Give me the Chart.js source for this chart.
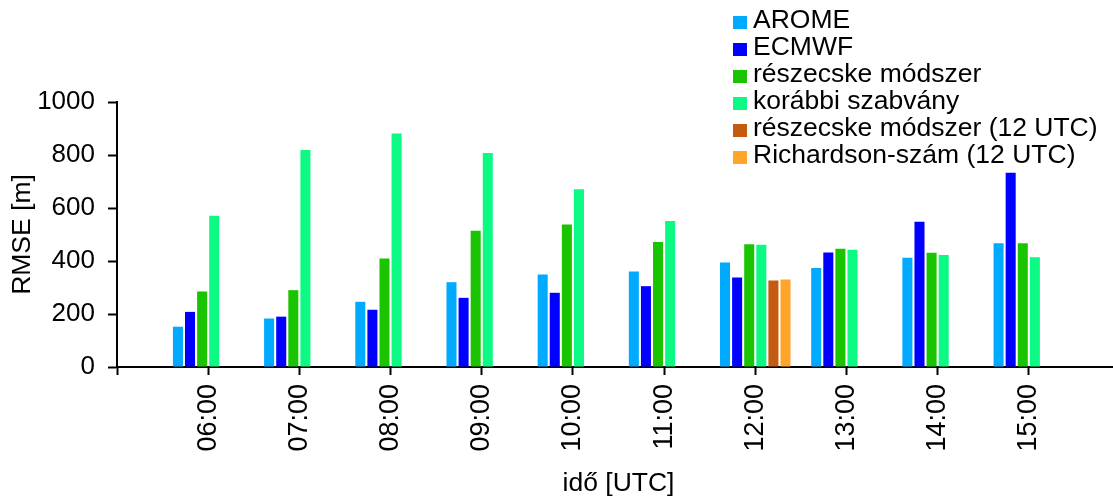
<!DOCTYPE html>
<html>
<head>
<meta charset="utf-8">
<script src="https://cdn.jsdelivr.net/npm/chart.js@4/dist/chart.umd.min.js"></script>
<style>
  html, body { margin: 0; padding: 0; background: #fff; overflow: hidden; }
  #wrap { position: relative; width: 1113px; height: 498px; overflow: hidden; }
  #myChart { position: absolute; left: 0; top: 0; }
  #legend {
    position: absolute; left: 733px; top: 6px;
    font-family: 'Liberation Sans', Arial, sans-serif; font-size: 26.5px; color: #000;
  }
  .item { position: relative; height: 27.06px; line-height: 27px; padding-left: 20px; white-space: nowrap; }
  .box { position: absolute; left: 0; top: 10px; width: 14px; height: 13px; }
</style>
</head>
<body>
<div id="wrap">
  <canvas id="myChart" width="1120" height="498"></canvas>
  <div id="legend"></div>
</div>
<script>
// empty slot at both ends so the ticks land where the original ones are
const labels = ['', '06:00', '07:00', '08:00', '09:00', '10:00', '11:00', '12:00', '13:00', '14:00', '15:00', '']

const seriesNames = ['AROME', 'ECMWF', 'részecske módszer', 'korábbi szabvány', 'részecske módszer (12 UTC)', 'Richardson-szám (12 UTC)']
const seriesColors = ['#00AAFF', '#0000FF', '#1BC400', '#0CFA84', '#C55A11', '#FFA62A']

const arome = [null, 152, 183, 246, 320, 349, 360, 394, 374, 412, 467, null]
const ecmwf = [null, 208, 190, 216, 261, 280, 305, 338, 432, 548, 733, null]
const reszecske = [null, 285, 290, 409, 514, 538, 472, 463, 446, 431, 467, null]
const korabbi = [null, 571, 819, 881, 808, 671, 551, 461, 442, 423, 414, null]
const reszecske12 = [null, null, null, null, null, null, null, 326, null, null, null, null]
const richardson12 = [null, null, null, null, null, null, null, 330, null, null, null, null]

const yTicks = [0, 200, 400, 600, 800, 1000]

const seriesValues = [arome, ecmwf, reszecske, korabbi, reszecske12, richardson12]

Chart.defaults.font.family = "'Liberation Sans', Arial, sans-serif"
Chart.defaults.color = '#000'

const datasets = seriesValues.map((values, i) => {
    return {
        label: seriesNames[i],
        data: values,
        backgroundColor: seriesColors[i],
        borderWidth: 0,
        categoryPercentage: 0.796,
        barPercentage: 0.83
    }
})

function buildLegend(){
    const legend = document.getElementById('legend')
    datasets.forEach(ds => {
        const item = document.createElement('div')
        item.className = 'item'
        const box = document.createElement('span')
        box.className = 'box'
        box.style.background = ds.backgroundColor
        item.appendChild(box)
        item.appendChild(document.createTextNode(ds.label))
        legend.appendChild(item)
    })
}

const config = {
    type: 'bar',
    data: { labels: labels, datasets: datasets },
    options: {
        responsive: false,
        animation: false,
        layout: { padding: { top: 102, left: 0, right: 0, bottom: 0 } },
        plugins: {
            legend: { display: false },
            tooltip: { enabled: false }
        },
        scales: {
            x: {
                offset: false,
                afterFit: (scale) => {
                    scale.height = 131
                    scale.paddingLeft = 0
                    scale.paddingRight = 0
                },
                grid: {
                    offset: false,
                    drawOnChartArea: false,
                    drawTicks: true,
                    tickLength: 8,
                    tickWidth: 2,
                    tickColor: '#000'
                },
                border: { display: true, color: '#000', width: 2 },
                ticks: {
                    autoSkip: false,
                    minRotation: 90,
                    maxRotation: 90,
                    padding: 9,
                    font: { size: 27 }
                },
                title: {
                    display: true,
                    text: 'idő [UTC]',
                    font: { size: 26.5, lineHeight: 1 },
                    padding: { top: 0, bottom: 1 }
                }
            },
            y: {
                min: 0,
                max: 1000,
                afterFit: (scale) => { scale.width = 117 },
                afterBuildTicks: (scale) => { scale.ticks = yTicks.map(v => ({ value: v })) },
                grid: {
                    drawOnChartArea: false,
                    drawTicks: true,
                    tickLength: 9,
                    tickWidth: 2,
                    tickColor: '#000'
                },
                border: { display: true, color: '#000', width: 2 },
                ticks: {
                    padding: 13,
                    font: { size: 26 },
                    callback: (value) => String(value)
                },
                title: {
                    display: true,
                    text: 'RMSE [m]',
                    font: { size: 26.5 },
                    padding: { top: 7, bottom: 0 }
                }
            }
        }
    }
}

buildLegend()

const myChart = new Chart(document.getElementById('myChart'), config)
</script>
</body>
</html>
